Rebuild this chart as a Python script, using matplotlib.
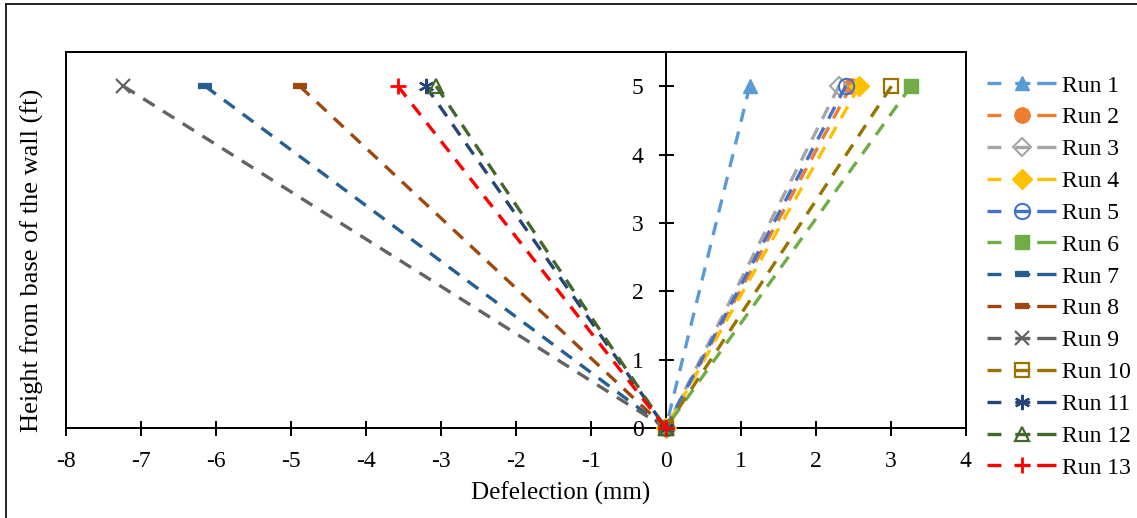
import matplotlib
matplotlib.use("Agg")
import matplotlib.pyplot as plt
from matplotlib.lines import Line2D

# Deflection at the top of the wall (height 5 ft) for each run; every run starts at the base (0, 0)
runs = ["Run 1", "Run 2", "Run 3", "Run 4", "Run 5", "Run 6", "Run 7",
        "Run 8", "Run 9", "Run 10", "Run 11", "Run 12", "Run 13"]
top_defl = [1.12, 2.47, 2.31, 2.58, 2.40, 3.27, -6.14,
            -4.88, -7.23, 3.01, -3.20, -3.06, -3.57]
heights = [0, 5]

colors = ["#5B9BD5", "#ED7D31", "#A5A5A5", "#FFC000", "#4472C4", "#70AD47", "#255E91",
          "#9E480E", "#636363", "#997300", "#264478", "#43682B", "#FF0000"]
markers = ["^", "o", "D", "D", "o", "s", "_", "_", "x", "s", (6, 2, 0), "^", "+"]
hollow = [False, False, True, False, True, False, False, False, False, True, False, True, False]
msizes = [10, 11, 9, 10, 11, 10, 10, 10, 10, 10, 11, 10, 11]
medges = [1, 1, 1.5, 1, 1.5, 1, 4.5, 4.5, 1.6, 1.6, 1.6, 1.6, 2]

plt.rcParams["font.family"] = ["Liberation Serif", "DejaVu Serif"]
plt.rcParams["axes.unicode_minus"] = False
fig = plt.figure(figsize=(11.37, 5.18), dpi=100)
ax = fig.add_axes([65.7 / 1137, 1 - 428 / 518, 900 / 1137, 376 / 518])

LW = 2.4
for i, name in enumerate(runs):
    ax.plot([top_defl[i], 0], heights[::-1], color=colors[i], lw=LW, dashes=(4, 3),
            marker=markers[i], ms=msizes[i], mew=medges[i], mec=colors[i],
            mfc="none" if hollow[i] else colors[i], clip_on=False, zorder=3 + i)

ax.set_xlim(-8, 4)
ax.set_ylim(0, 5.5)
ax.set_xticks(range(-8, 5))
ax.set_yticks(range(0, 6))

# vertical axis runs through x = 0, plot area keeps a full frame
ax.spines["left"].set_position(("data", 0))
for s in ax.spines.values():
    s.set_linewidth(1.4)
ax.plot([0, 0], [0, 1], transform=ax.transAxes, color="black", lw=1.4, clip_on=False)
ax.tick_params(direction="inout", length=10.8, width=1.4, labelsize=17)
ax.tick_params(axis="x", pad=11.5)
ax.tick_params(axis="y", pad=10.5)

ax.set_xlabel("Defelection (mm)", fontsize=18, ha="right")
ax.set_ylabel("Height from base of the wall (ft)", fontsize=19)
ax.xaxis.set_label_coords((650 - 65.7) / 900, -0.143)
ax.yaxis.set_label_coords(-0.0244, 0.446)

# legend: dash, marker, dash
handles = []
for i, name in enumerate(runs):
    pat = [v / LW for v in (10, 10, 10.8, 5, 14.4, 60)]
    handles.append(Line2D([], [], color=colors[i], lw=LW, dashes=pat,
                          marker=markers[i], ms=msizes[i], mew=medges[i], mec=colors[i],
                          mfc="none" if hollow[i] else colors[i]))
fig.legend(handles, runs, loc="upper left", bbox_to_anchor=(987 / 1137, 1 - 75 / 518),
           frameon=False, fontsize=17, handlelength=2.94, handletextpad=0.25,
           labelspacing=0.437, borderpad=0, borderaxespad=0, numpoints=1)

# outer chart border
fig.add_artist(Line2D([6 / 1137, 6 / 1137], [0, 1 - 4 / 518], color="black", lw=1.2))
fig.add_artist(Line2D([6 / 1137, 1], [1 - 4 / 518, 1 - 4 / 518], color="black", lw=1.2))

fig.savefig("out.png", dpi=100)
